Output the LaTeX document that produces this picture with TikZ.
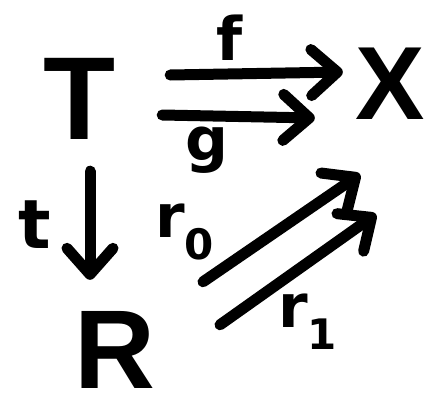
\documentclass[tikz,border=0pt]{standalone}
\usepackage{fontspec}
\setmainfont{DejaVu Sans}
\newfontfamily\bigfont{Liberation Sans}
\usetikzlibrary{arrows.meta}
\begin{document}
\begin{tikzpicture}[x=1pt,y=-1pt,
  obj/.style={inner sep=0pt, text depth=0pt},
  lbl/.style={inner sep=0pt, font=\bfseries\fontsize{60}{60}\selectfont},
  arr/.style={line width=11pt, line cap=round,
    -{Straight Barb[length=26pt,width=46pt,line width=11pt,round]}}]
\useasboundingbox (0,0) rectangle (430,415);
\node[obj, minimum width=100pt, text height=84pt, font=\bigfont\bfseries\fontsize{118}{118}\selectfont] (T) at (80,97) {T};
\node[obj, minimum width=70pt, text height=74pt, font=\bigfont\bfseries\fontsize{104}{104}\selectfont] (X) at (390,82) {X};
\node[obj, minimum width=80pt, text height=80pt, font=\bigfont\bfseries\fontsize{112}{112}\selectfont] (R) at (115,348) {R};
% f
\draw[arr] ([xshift=40pt,yshift=22pt]T.east) -- ([xshift=-12pt,yshift=10pt]X.west);
\node[lbl] (lf) at (230,38) {f};
% g
\draw[arr] ([xshift=32pt,yshift=-18pt]T.east) -- ([xshift=-40pt,yshift=-36pt]X.west);
\node[lbl] (lg) at (207,150) {g};
% t
\draw[arr] ([xshift=10pt,yshift=-32pt]T.south) -- ([xshift=-25pt,yshift=28pt]R.north);
\node[lbl, font=\bfseries\fontsize{68}{68}\selectfont] (lt) at (35,225) {t};
% r0
\draw[arr] ([xshift=88pt,yshift=26pt]R.north) -- ([xshift=-30pt,yshift=-55pt]X.south);
\node[lbl] (lr0) at (185,232) {r$_{\mathbf{0}}$};
% r1
\draw[arr] ([xshift=105pt,yshift=-17pt]R.north) -- ([xshift=-14pt,yshift=-95pt]X.south);
\node[lbl] (lr1) at (308,322) {r$_{\mathbf{1}}$};
\end{tikzpicture}
\end{document}
